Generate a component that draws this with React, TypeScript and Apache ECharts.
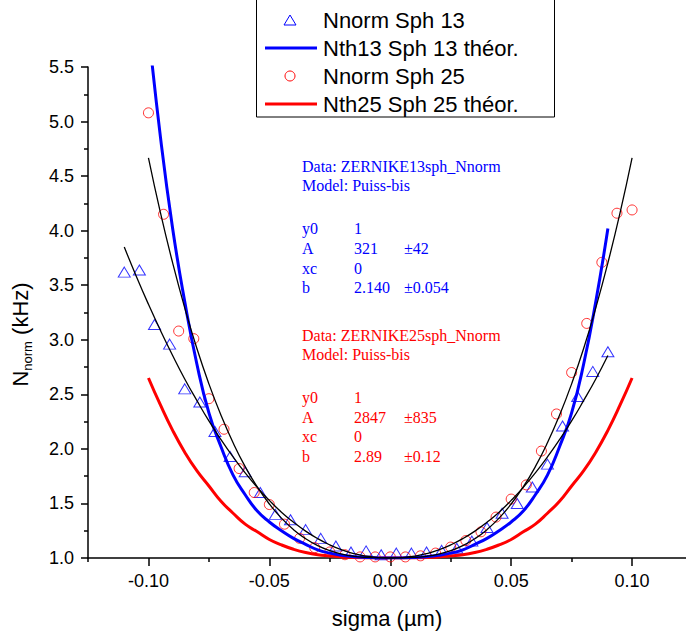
import React, { useEffect, useRef } from 'react';
import * as echarts from 'echarts';

const BLUE = '#0000ff';
const RED = '#ff0000';
const SANS = '"Liberation Sans", Arial, sans-serif';
const SERIF = '"Liberation Serif", "Times New Roman", serif';

// Measured points, Sph 13 (triangles)
const sph13X = [-0.11, -0.10375, -0.0975, -0.09125, -0.085, -0.07875, -0.0725, -0.06625, -0.06, -0.05375, -0.0475, -0.04125, -0.035, -0.02875, -0.0225, -0.01625, -0.01, -0.00375, 0.0025, 0.00875, 0.015, 0.02125, 0.0275, 0.03375, 0.04, 0.04625, 0.0525, 0.05875, 0.065, 0.07125, 0.0775, 0.08375, 0.09];
const sph13Y = [3.62, 3.64, 3.14, 2.96, 2.55, 2.43, 2.16, 1.93, 1.79, 1.6, 1.4, 1.35, 1.26, 1.18, 1.11, 1.055, 1.065, 1.03, 1.045, 1.045, 1.055, 1.07, 1.09, 1.155, 1.28, 1.41, 1.5, 1.65, 1.86, 2.21, 2.48, 2.71, 2.89];

// Measured points, Sph 25 (circles)
const sph25X = [-0.1, -0.09375, -0.0875, -0.08125, -0.075, -0.06875, -0.0625, -0.05625, -0.05, -0.04375, -0.0375, -0.03125, -0.025, -0.01875, -0.0125, -0.00625, 0, 0.00625, 0.0125, 0.01875, 0.025, 0.03125, 0.0375, 0.04375, 0.05, 0.05625, 0.0625, 0.06875, 0.075, 0.08125, 0.0875, 0.09375, 0.1];
const sph25Y = [5.08, 4.15, 3.08, 3.01, 2.46, 2.18, 1.82, 1.6, 1.49, 1.31, 1.18, 1.095, 1.055, 1.03, 1.01, 1.01, 1.01, 1.01, 1.02, 1.045, 1.1, 1.16, 1.24, 1.375, 1.54, 1.67, 1.98, 2.32, 2.7, 3.15, 3.71, 4.16, 4.19];

// Theoretical curve Nth13 (blue)
const th13X = [-0.1, -0.095, -0.09, -0.085, -0.08, -0.075, -0.07, -0.065, -0.06, -0.055, -0.05, -0.045, -0.04, -0.035, -0.03, -0.025, -0.02, -0.015, -0.01, -0.005, 0, 0.005, 0.01, 0.015, 0.02, 0.025, 0.03, 0.035, 0.04, 0.045, 0.05, 0.055, 0.06, 0.065, 0.07, 0.075, 0.08, 0.085, 0.09];
const th13Y = [5.85, 4.85, 4.02, 3.35, 2.78, 2.33, 2.02, 1.76, 1.58, 1.43, 1.33, 1.25, 1.18, 1.125, 1.075, 1.045, 1.025, 1.012, 1.005, 1.001, 1.0, 1.001, 1.005, 1.012, 1.025, 1.045, 1.075, 1.125, 1.18, 1.25, 1.33, 1.43, 1.58, 1.76, 2.02, 2.33, 2.78, 3.35, 4.02];

// Theoretical curve Nth25 (red)
const th25X = [-0.1, -0.095, -0.09, -0.085, -0.08, -0.075, -0.07, -0.065, -0.06, -0.055, -0.05, -0.045, -0.04, -0.035, -0.03, -0.025, -0.02, -0.015, -0.01, -0.005, 0, 0.005, 0.01, 0.015, 0.02, 0.025, 0.03, 0.035, 0.04, 0.045, 0.05, 0.055, 0.06, 0.065, 0.07, 0.075, 0.08, 0.085, 0.09, 0.095, 0.1];
const th25Y = [2.65, 2.4, 2.17, 1.97, 1.8, 1.66, 1.52, 1.41, 1.31, 1.24, 1.17, 1.12, 1.08, 1.05, 1.03, 1.02, 1.01, 1.004, 1.001, 1.0, 1.0, 1.0, 1.001, 1.004, 1.01, 1.02, 1.03, 1.05, 1.08, 1.12, 1.17, 1.24, 1.31, 1.41, 1.52, 1.66, 1.8, 1.97, 2.17, 2.4, 2.65];

// Fit curve Sph 13 (black)
const fit13X = [-0.11, -0.105, -0.1, -0.095, -0.09, -0.085, -0.08, -0.075, -0.07, -0.065, -0.06, -0.055, -0.05, -0.045, -0.04, -0.035, -0.03, -0.025, -0.02, -0.015, -0.01, -0.005, 0, 0.005, 0.01, 0.015, 0.02, 0.025, 0.03, 0.035, 0.04, 0.045, 0.05, 0.055, 0.06, 0.065, 0.07, 0.075, 0.08, 0.085, 0.09];
const fit13Y = [3.85, 3.58, 3.325, 3.084, 2.856, 2.641, 2.444, 2.256, 2.085, 1.926, 1.78, 1.647, 1.528, 1.42, 1.328, 1.246, 1.177, 1.12, 1.074, 1.04, 1.017, 1.004, 1.0, 1.004, 1.017, 1.04, 1.074, 1.12, 1.177, 1.246, 1.328, 1.42, 1.528, 1.647, 1.78, 1.926, 2.085, 2.256, 2.444, 2.641, 2.856];

// Fit curve Sph 25 (black)
const fit25X = [-0.1, -0.095, -0.09, -0.085, -0.08, -0.075, -0.07, -0.065, -0.06, -0.055, -0.05, -0.045, -0.04, -0.035, -0.03, -0.025, -0.02, -0.015, -0.01, -0.005, 0, 0.005, 0.01, 0.015, 0.02, 0.025, 0.03, 0.035, 0.04, 0.045, 0.05, 0.055, 0.06, 0.065, 0.07, 0.075, 0.08, 0.085, 0.09, 0.095, 0.1];
const fit25Y = [4.667, 4.16, 3.705, 3.293, 2.922, 2.596, 2.308, 2.056, 1.837, 1.651, 1.495, 1.365, 1.26, 1.177, 1.113, 1.067, 1.035, 1.015, 1.005, 1.001, 1.0, 1.001, 1.005, 1.015, 1.035, 1.067, 1.113, 1.177, 1.26, 1.365, 1.495, 1.651, 1.837, 2.056, 2.308, 2.596, 2.922, 3.293, 3.705, 4.16, 4.667];

const xMajorTicks = [-0.1, -0.05, 0, 0.05, 0.1];
const xMinorTicks = [-0.125, -0.075, -0.025, 0.025, 0.075];

const legendNames = ['Nnorm Sph 13', 'Nth13 Sph 13 théor.', 'Nnorm Sph 25', 'Nth25 Sph 25 théor.'];
const fit13Lines = [
  ['Data: ZERNIKE13sph_Nnorm'],
  ['Model: Puiss-bis'],
  ['y0', '1', ''],
  ['A', '321', '±42'],
  ['xc', '0', ''],
  ['b', '2.140', '±0.054'],
];
const fit25Lines = [
  ['Data: ZERNIKE25sph_Nnorm'],
  ['Model: Puiss-bis'],
  ['y0', '1', ''],
  ['A', '2847', '±835'],
  ['xc', '0', ''],
  ['b', '2.89', '±0.12'],
];

const pair = (xs: number[], ys: number[]) => xs.map((x, i) => [x, ys[i]]);

function paramBlock(lines: string[][], ys: number[], color: string) {
  const els: any[] = [];
  const cols = [302, 354, 404];
  lines.forEach((row, i) => {
    row.forEach((t, j) => {
      if (!t) return;
      els.push({
        type: 'text',
        x: cols[j],
        y: ys[i],
        silent: true,
        style: { text: t, fill: color, fontSize: 16, fontFamily: SERIF, verticalAlign: 'middle', align: 'left' },
      });
    });
  });
  return els;
}

function legendGraphics() {
  const rows = [20, 48, 76, 104];
  const els: any[] = [
    { type: 'rect', shape: { x: 256.5, y: -5, width: 298, height: 122 }, style: { fill: 'none', stroke: '#000', lineWidth: 1 }, silent: true },
    { type: 'polygon', shape: { points: [[284, 25], [296, 25], [290, 15]] }, style: { fill: 'none', stroke: BLUE, lineWidth: 1 }, silent: true },
    { type: 'line', shape: { x1: 265, y1: rows[1], x2: 317, y2: rows[1] }, style: { stroke: BLUE, lineWidth: 3 }, silent: true },
    { type: 'circle', shape: { cx: 290, cy: rows[2], r: 5 }, style: { fill: 'none', stroke: RED, lineWidth: 1 }, silent: true },
    { type: 'line', shape: { x1: 265, y1: rows[3], x2: 317, y2: rows[3] }, style: { stroke: RED, lineWidth: 3 }, silent: true },
  ];
  legendNames.forEach((n, i) => {
    els.push({
      type: 'text', x: 323, y: rows[i], silent: true,
      style: { text: n, fill: '#000', fontSize: 22, fontFamily: SANS, verticalAlign: 'middle', align: 'left' },
    });
  });
  return els;
}

const fmtX = (v: number) => (Math.abs(v) < 1e-9 ? '0.00' : v.toFixed(2));

export default function App() {
  const ref = useRef<HTMLDivElement>(null);
  useEffect(() => {
    const chart = echarts.init(ref.current!, null, { renderer: 'svg' });
    const axisLineStyle = { color: '#000', width: 1.5 };
    const option: any = {
      animation: false,
      backgroundColor: '#fff',
      grid: { left: 88, right: 0, top: 67, bottom: 80 },
      xAxis: [
        {
          type: 'value', min: -0.125, max: 0.1223,
          axisLine: { show: true, onZero: false, lineStyle: axisLineStyle },
          axisTick: { show: true, customValues: xMajorTicks, length: 8, lineStyle: axisLineStyle },
          axisLabel: { customValues: xMajorTicks, formatter: fmtX, fontSize: 18, color: '#000', fontFamily: SANS, margin: 14 },
          splitLine: { show: false },
          name: 'sigma (µm)', nameLocation: 'middle', nameGap: 49,
          nameTextStyle: { fontSize: 22, color: '#000', fontFamily: SANS },
        },
        {
          type: 'value', min: -0.125, max: 0.1223, position: 'bottom', gridIndex: 0,
          axisLine: { show: false, onZero: false },
          axisTick: { show: true, customValues: xMinorTicks, length: 4, lineStyle: axisLineStyle },
          axisLabel: { show: false },
          splitLine: { show: false },
        },
      ],
      yAxis: {
        type: 'value', min: 1, max: 5.5, interval: 0.5, position: 'left',
        axisLine: { show: true, onZero: false, lineStyle: axisLineStyle },
        axisTick: { show: true, length: 7, lineStyle: axisLineStyle },
        minorTick: { show: true, splitNumber: 2, length: 4, lineStyle: axisLineStyle },
        axisLabel: { formatter: (v: number) => v.toFixed(1), fontSize: 18, color: '#000', fontFamily: SANS, margin: 14 },
        splitLine: { show: false },
        minorSplitLine: { show: false },
        name: '{a|N}{b|norm}{a| (kHz)}', nameLocation: 'middle', nameRotate: 90, nameGap: 54,
        nameTextStyle: {
          color: '#000', fontFamily: SANS, padding: [0, 44, 0, 0],
          rich: {
            a: { fontSize: 22, color: '#000', fontFamily: SANS, lineHeight: 28 },
            b: { fontSize: 13, color: '#000', fontFamily: SANS, lineHeight: 28, verticalAlign: 'bottom', padding: [8, 0, 0, 0] },
          },
        },
      },
      series: [
        { name: legendNames[3], type: 'line', data: pair(th25X, th25Y), showSymbol: false, smooth: true, lineStyle: { color: RED, width: 3 }, itemStyle: { color: RED }, silent: true },
        { name: legendNames[1], type: 'line', data: pair(th13X, th13Y), showSymbol: false, smooth: true, lineStyle: { color: BLUE, width: 3 }, itemStyle: { color: BLUE }, silent: true },
        { name: 'fit13', type: 'line', data: pair(fit13X, fit13Y), showSymbol: false, smooth: true, lineStyle: { color: '#000', width: 1.3 }, itemStyle: { color: '#000' }, silent: true },
        { name: 'fit25', type: 'line', data: pair(fit25X, fit25Y), showSymbol: false, smooth: true, lineStyle: { color: '#000', width: 1.3 }, itemStyle: { color: '#000' }, silent: true },
        { name: legendNames[0], type: 'scatter', data: pair(sph13X, sph13Y), symbol: 'triangle', symbolSize: [12, 10], itemStyle: { color: 'rgba(0,0,0,0)', borderColor: BLUE, borderWidth: 1 }, silent: true },
        { name: legendNames[2], type: 'scatter', data: pair(sph25X, sph25Y), symbol: 'circle', symbolSize: 10, itemStyle: { color: 'rgba(0,0,0,0)', borderColor: RED, borderWidth: 1 }, silent: true },
      ],
      graphic: [
        ...legendGraphics(),
        ...paramBlock(fit13Lines, [166, 185, 228, 248, 268, 287], BLUE),
        ...paramBlock(fit25Lines, [335, 354, 397, 417, 436, 456], RED),
      ],
    };
    chart.setOption(option);
    return () => chart.dispose();
  }, []);
  return (
    <div style={{ position: 'fixed', left: 0, top: 0, width: 686, height: 638, background: '#fff', overflow: 'hidden' }}>
      <div ref={ref} style={{ width: 686, height: 638 }} />
    </div>
  );
}
